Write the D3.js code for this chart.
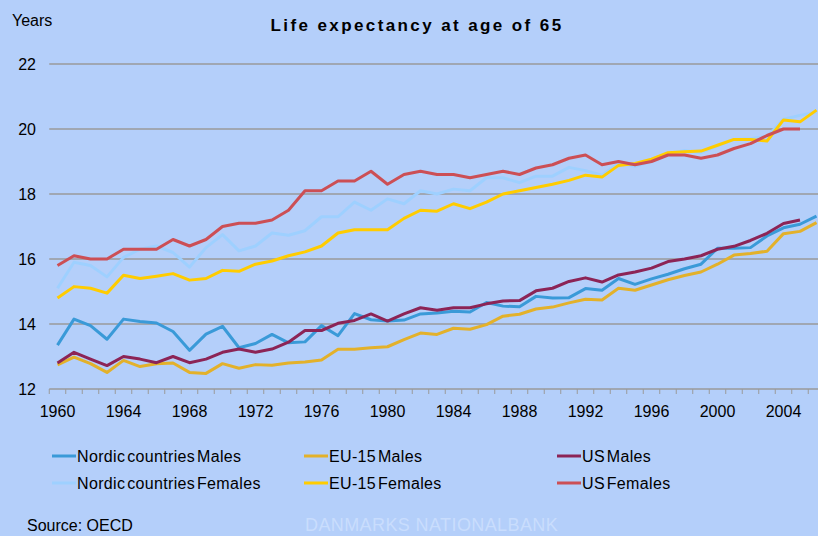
<!DOCTYPE html>
<html>
<head>
<meta charset="utf-8">
<script src="https://cdn.jsdelivr.net/npm/d3@7"></script>
<style>
  html, body { margin: 0; padding: 0; background: #b4cffa; }
  svg { display: block; font-family: "Liberation Sans", Arial, sans-serif; }
</style>
</head>
<body>
<script>
// data (years, life expectancy at 65)
const years = d3.range(1960, 2007);
const yTicks = [12, 14, 16, 18, 20, 22];
const xTickYears = [1960, 1964, 1968, 1972, 1976, 1980, 1984, 1988, 1992, 1996, 2000, 2004];

const nordicMales = [
  13.35, 14.15, 13.95, 13.53, 14.15, 14.08, 14.03, 13.77, 13.19, 13.69,
  13.93, 13.27, 13.4, 13.68, 13.42, 13.45, 13.95, 13.64, 14.32, 14.13,
  14.09, 14.12, 14.31, 14.34, 14.39, 14.37, 14.66, 14.55, 14.53, 14.85,
  14.8, 14.81, 15.09, 15.04, 15.4, 15.22, 15.39, 15.53, 15.7, 15.84,
  16.33, 16.33, 16.35, 16.71, 16.96, 17.07, 17.32
];
const eu15Males = [
  12.74, 12.98, 12.78, 12.51, 12.88, 12.69, 12.78, 12.8, 12.51, 12.48,
  12.78, 12.64, 12.75, 12.73, 12.8, 12.83, 12.89, 13.22, 13.22, 13.27,
  13.3, 13.52, 13.72, 13.68, 13.87, 13.84, 13.98, 14.24, 14.3, 14.46,
  14.52, 14.65, 14.76, 14.74, 15.1, 15.04, 15.2, 15.36, 15.49, 15.6,
  15.84, 16.12, 16.17, 16.24, 16.78, 16.85, 17.12
];
const usMales = [
  12.8, 13.13, 12.92, 12.72, 13.0, 12.92, 12.81, 13.0, 12.81, 12.92,
  13.13, 13.23, 13.13, 13.23, 13.44, 13.8, 13.8, 14.02, 14.11, 14.31,
  14.09, 14.31, 14.5, 14.42, 14.5, 14.5, 14.62, 14.71, 14.72, 15.02,
  15.1, 15.31, 15.42, 15.29, 15.51, 15.6, 15.72, 15.92, 16.0, 16.1,
  16.3, 16.39, 16.57, 16.79, 17.09, 17.2, null
];
const nordicFemales = [
  15.1, 15.9, 15.8, 15.45, 16.05, 16.3, 16.4, 16.2, 15.75, 16.35,
  16.75, 16.25, 16.4, 16.8, 16.73, 16.87, 17.3, 17.3, 17.75, 17.5,
  17.85, 17.7, 18.1, 18.0, 18.15, 18.1, 18.5, 18.5, 18.35, 18.55,
  18.55, 18.82, 18.72, 18.58, 18.95, 18.85, 19.0, 19.22, 19.34, 19.27,
  19.48, 19.68, 19.7, 19.77, 20.3, 20.42, 20.52
];
const eu15Females = [
  14.8, 15.15, 15.1, 14.95, 15.5, 15.4, 15.47, 15.55, 15.35, 15.4,
  15.65, 15.62, 15.84, 15.94, 16.1, 16.22, 16.4, 16.8, 16.9, 16.9,
  16.9, 17.25, 17.5, 17.47, 17.7, 17.55, 17.75, 18.0, 18.1, 18.2,
  18.3, 18.42, 18.58, 18.52, 18.88, 18.94, 19.07, 19.27, 19.3, 19.32,
  19.5, 19.68, 19.68, 19.63, 20.28, 20.22, 20.58
];
const usFemales = [
  15.8, 16.1, 16.0, 16.0, 16.3, 16.3, 16.3, 16.6, 16.4, 16.6,
  17.0, 17.1, 17.1, 17.2, 17.5, 18.1, 18.1, 18.4, 18.4, 18.7,
  18.3, 18.6, 18.7, 18.6, 18.6, 18.5, 18.6, 18.7, 18.6, 18.8,
  18.9, 19.1, 19.2, 18.9, 19.0, 18.9, 19.0, 19.2, 19.2, 19.1,
  19.2, 19.4, 19.55, 19.8, 20.0, 20.0, null
];

const seriesNames = [
  "Nordic countries Males", "EU-15 Males", "US Males",
  "Nordic countries Females", "EU-15 Females", "US Females"
];
const seriesValues = [nordicMales, eu15Males, usMales, nordicFemales, eu15Females, usFemales];
const seriesColors = ["#3a9ad8", "#e3b12a", "#8c2456", "#9ed0ff", "#ffcc00", "#cc4f55"];

const width = 818;
const height = 536;
const step = 16.5;
const firstX = 57.5;

const svg = d3.select("body").append("svg")
    .attr("width", width)
    .attr("height", height);

svg.append("rect")
    .attr("width", width).attr("height", height)
    .attr("fill", "#b4cffa");

const x = d3.scalePoint()
    .domain(years)
    .range([firstX, firstX + step * (years.length - 1)]);

const y = d3.scaleLinear()
    .domain([12, 22])
    .range([389, 64]);

const plotLeft = firstX - step / 2;
const plotRight = firstX + step * (years.length - 0.5);

// gridlines
svg.append("g")
    .selectAll("line")
    .data(yTicks.filter(d => d > 12))
    .join("line")
    .attr("x1", plotLeft).attr("x2", plotRight)
    .attr("y1", d => y(d)).attr("y2", d => y(d))
    .attr("stroke", "#9a9a9a")
    .attr("stroke-width", 1.5);

// y axis labels
svg.append("g")
    .selectAll("text")
    .data(yTicks)
    .join("text")
    .attr("x", 36)
    .attr("y", d => y(d) + 6)
    .attr("text-anchor", "end")
    .attr("font-size", 16)
    .text(d => d);

// x axis line and ticks at category boundaries
const xAxis = svg.append("g");
xAxis.append("line")
    .attr("x1", plotLeft).attr("x2", plotRight)
    .attr("y1", y(12)).attr("y2", y(12))
    .attr("stroke", "#9a9a9a")
    .attr("stroke-width", 1.5);

xAxis.selectAll("line.tick")
    .data(years.concat([2007]))
    .join("line")
    .attr("class", "tick")
    .attr("x1", d => (d === 2007 ? x(2006) + step : x(d)) - step / 2)
    .attr("x2", d => (d === 2007 ? x(2006) + step : x(d)) - step / 2)
    .attr("y1", y(12)).attr("y2", y(12) + 5)
    .attr("stroke", "#9a9a9a")
    .attr("stroke-width", 1);

xAxis.selectAll("text")
    .data(xTickYears)
    .join("text")
    .attr("x", d => x(d))
    .attr("y", 417)
    .attr("text-anchor", "middle")
    .attr("font-size", 16)
    .text(d => d);

// series lines
const line = d3.line()
    .defined(d => d[1] != null)
    .x(d => x(d[0]))
    .y(d => y(d[1]));

svg.append("g")
    .selectAll("path")
    .data(seriesValues)
    .join("path")
    .attr("d", vals => line(years.map((yr, i) => [yr, vals[i]])))
    .attr("fill", "none")
    .attr("stroke", (d, i) => seriesColors[i])
    .attr("stroke-width", 3)
    .attr("stroke-linejoin", "round");

// texts
svg.append("text")
    .attr("x", 12).attr("y", 26)
    .attr("font-size", 16)
    .text("Years");

svg.append("text")
    .attr("x", 417).attr("y", 31)
    .attr("text-anchor", "middle")
    .attr("font-size", 17)
    .attr("font-weight", "bold")
    .attr("letter-spacing", 2.4)
    .text("Life expectancy at age of 65");

// legend, 3 columns x 2 rows
const legendCols = [52, 304, 557];
const legendRows = [456, 483];
const legend = svg.append("g")
    .selectAll("g")
    .data(seriesNames)
    .join("g")
    .attr("transform", (d, i) => `translate(${legendCols[i % 3]},${legendRows[Math.floor(i / 3)]})`);

legend.append("line")
    .attr("x1", 0).attr("x2", 24)
    .attr("stroke", (d, i) => seriesColors[i])
    .attr("stroke-width", 3);

legend.append("text")
    .attr("x", 25)
    .attr("y", 6)
    .attr("font-size", 16)
    .attr("letter-spacing", 0.35)
    .attr("word-spacing", -3)
    .text(d => d);

svg.append("text")
    .attr("x", 27).attr("y", 531)
    .attr("font-size", 16)
    .text("Source: OECD");

svg.append("text")
    .attr("x", 305).attr("y", 531)
    .attr("font-size", 18)
    .attr("letter-spacing", 0.4)
    .attr("fill", "#c9ddfd")
    .text("DANMARKS NATIONALBANK");
</script>
</body>
</html>
